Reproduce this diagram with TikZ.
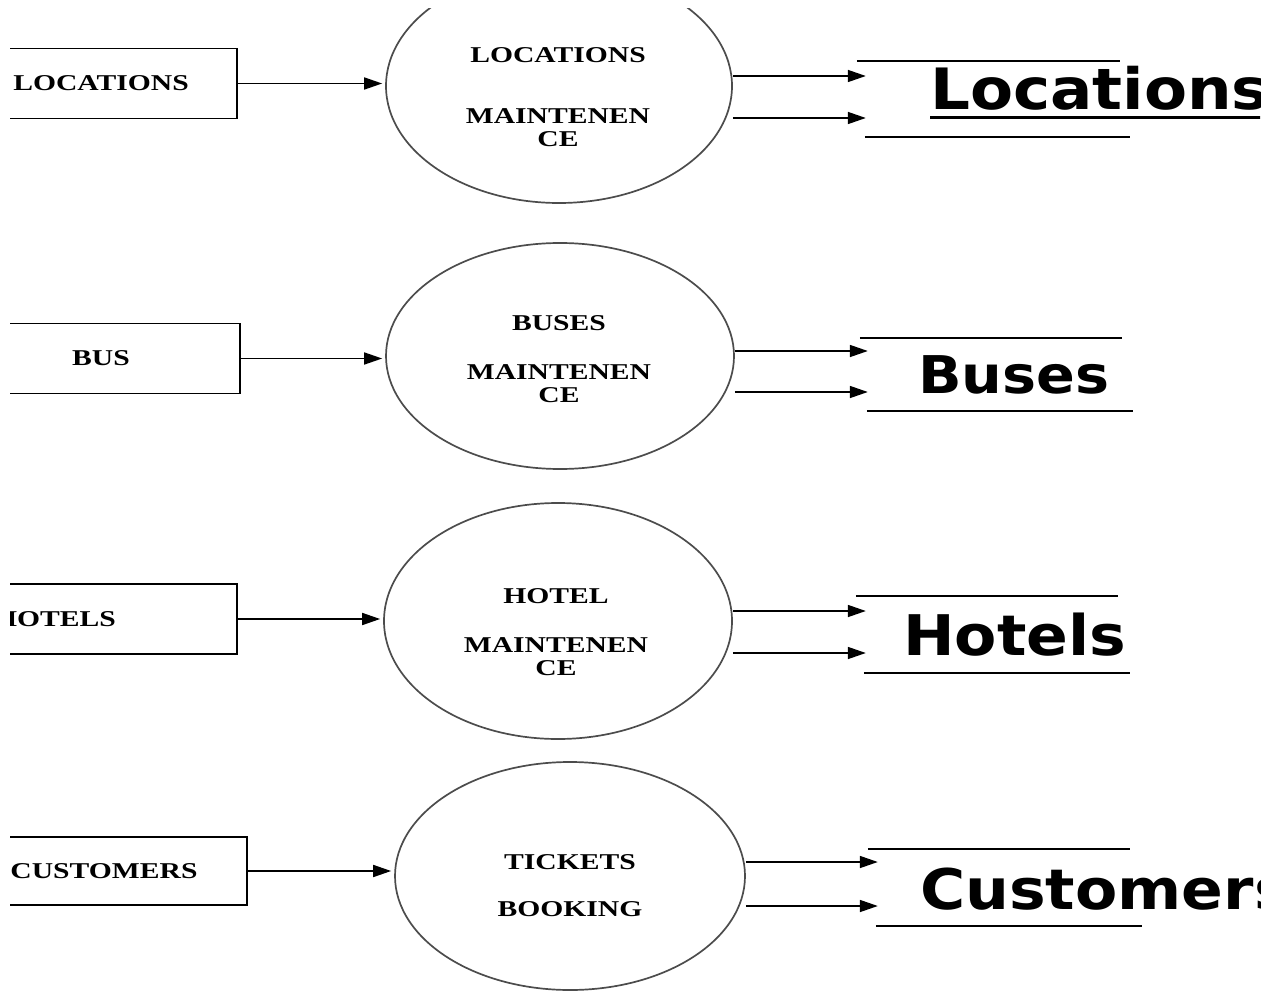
\documentclass[tikz,border=0pt]{standalone}
\usepackage{fontspec}
\usetikzlibrary{shapes.geometric,arrows.meta,calc}
\newfontfamily\boxfont[FakeStretch=1.31]{Liberation Serif}
\newfontfamily\storefont[FakeStretch=1.1]{DejaVu Sans}
\tikzset{
	ent/.style={draw, line width=1.7pt, minimum height=70pt, inner sep=0pt, font=\boxfont\bfseries\fontsize{22.6}{23}\selectfont},
	proc/.style={ellipse, draw=black!70, line width=1.7pt, inner sep=0pt},
	ptext/.style={anchor=north, inner sep=0pt, align=center, font=\boxfont\bfseries\fontsize{22.6}{23}\selectfont},
	store/.style={minimum width=262pt, minimum height=76pt, inner sep=0pt},
	stext/.style={anchor=base west, inner sep=0pt, font=\storefont\bfseries\fontsize{56}{60}\selectfont},
	flow/.style={line width=1.7pt, -{Triangle[length=18pt,width=12pt]}},
	dline/.style={line width=1.7pt}
}
\begin{document}
\begin{tikzpicture}[x=1pt,y=-1pt]
	\useasboundingbox (0,0) rectangle (1276,992);
	\clip (10,9) rectangle (1260,992);
	% locations
	\node[ent, minimum width=272pt] (locE) at (101,83.5) {LOCATIONS};
	\node[proc, minimum width=346pt, minimum height=234pt] (locP) at (559,86) {};
	\node[ptext] (locL) at (558,47.5) {LOCATIONS\\[38pt]MAINTENEN\\CE};
	\node[store, minimum width=263pt] (locS) at (988.5,99) {};
	\node[stext, font=\storefont\bfseries\fontsize{57}{60}\selectfont] (locT) at (930,110) {Locations};
	\draw[line width=3pt] ($(locT.base west)+(0,8)$) -- ($(locT.base east)+(0,8)$);
	\draw[dline] (locS.north west) -- (locS.north east) ($(locS.south west)+(8,0)$) -- ($(locS.south east)+(10,0)$);
	\draw[flow, shorten >=3pt] (locE.east) -- (locE.east -| locP.west);
	\foreach \d in {-10,32} {
		\coordinate (o) at ($(locP.east)+(0,\d)$);
		\draw[flow, shorten >=-9pt] (o) -- (o -| locS.west);
	}
	% buses
	\node[ent, minimum width=278pt] (busE) at (101,358.5) {BUS};
	\node[proc, minimum width=348pt, minimum height=226pt] (busP) at (560,356) {};
	\node[ptext] (busL) at (559,315.5) {BUSES\\[26pt]MAINTENEN\\CE};
	\node[store, minimum height=73pt] (busS) at (991,374.5) {};
	\node[stext, font=\storefont\bfseries\fontsize{52}{56}\selectfont] (busT) at (918,393) {Buses};
	\draw[dline] (busS.north west) -- (busS.north east) ($(busS.south west)+(7,0)$) -- ($(busS.south east)+(11,0)$);
	\draw[flow, shorten >=3pt] (busE.east) -- (busE.east -| busP.west);
	\foreach \d in {-5,36} {
		\coordinate (o) at ($(busP.east)+(0,\d)$);
		\draw[flow, shorten >=-8pt] (o) -- (o -| busS.west);
	}
	% hotels
	\node[ent, minimum width=364pt] (hotE) at (55,619) {HOTELS};
	\node[proc, minimum width=348pt, minimum height=236pt] (hotP) at (558,621) {};
	\node[ptext] (hotL) at (556,588.5) {HOTEL\\[26pt]MAINTENEN\\CE};
	\node[store, minimum height=77pt] (hotS) at (987,634.5) {};
	\node[stext] (hotT) at (903,655) {Hotels};
	\draw[dline] (hotS.north west) -- (hotS.north east) ($(hotS.south west)+(8,0)$) -- ($(hotS.south east)+(12,0)$);
	\draw[flow, shorten >=3pt] (hotE.east) -- (hotE.east -| hotP.west);
	\foreach \d in {-10,32} {
		\coordinate (o) at ($(hotP.east)+(0,\d)$);
		\draw[flow, shorten >=-10pt] (o) -- (o -| hotS.west);
	}
	% customers
	\node[ent, minimum width=286pt, minimum height=68pt] (cusE) at (104,871) {CUSTOMERS};
	\node[proc, minimum width=350pt, minimum height=228pt] (cusP) at (570,876) {};
	\node[ptext] (cusL) at (570,854.5) {TICKETS\\[24pt]BOOKING};
	\node[store, minimum height=77pt] (cusS) at (999,887.5) {};
	\node[stext] (cusT) at (920,909) {Customers};
	\draw[dline] (cusS.north west) -- (cusS.north east) ($(cusS.south west)+(8,0)$) -- ($(cusS.south east)+(12,0)$);
	\draw[flow, shorten >=3pt] (cusE.east) -- (cusE.east -| cusP.west);
	\foreach \d in {-14,30} {
		\coordinate (o) at ($(cusP.east)+(0,\d)$);
		\draw[flow, shorten >=-10pt] (o) -- (o -| cusS.west);
	}
\end{tikzpicture}
\end{document}
